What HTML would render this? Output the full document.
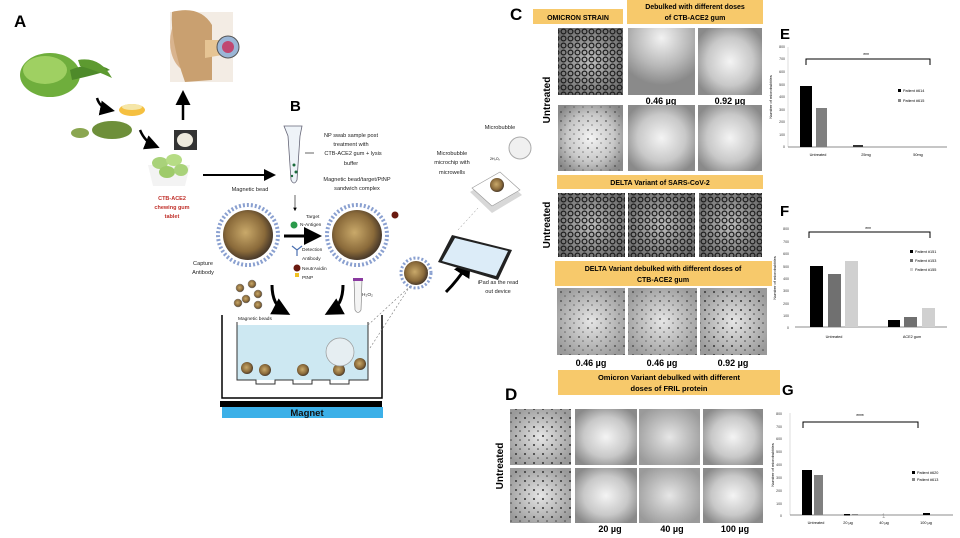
<!DOCTYPE html>
<html><head><meta charset="utf-8"><style>
html,body{margin:0;padding:0;background:#fff}
svg{display:block}
text{font-family:"Liberation Sans",sans-serif}
</style></head><body>
<svg width="960" height="538" viewBox="0 0 960 538" xmlns="http://www.w3.org/2000/svg">
<defs>
<radialGradient id="bright" cx="50%" cy="50%" r="60%"><stop offset="0" stop-color="#f4f4f4"/><stop offset="0.6" stop-color="#c8c8c8"/><stop offset="1" stop-color="#8a8a8a"/></radialGradient>
<radialGradient id="brightT" cx="50%" cy="15%" r="70%"><stop offset="0" stop-color="#f2f2f2"/><stop offset="0.6" stop-color="#b8b8b8"/><stop offset="1" stop-color="#8a8a8a"/></radialGradient>
<radialGradient id="mid" cx="50%" cy="50%" r="60%"><stop offset="0" stop-color="#e6e6e6"/><stop offset="1" stop-color="#9a9a9a"/></radialGradient>
<radialGradient id="denseG" cx="50%" cy="50%" r="60%"><stop offset="0" stop-color="#bdbdbd"/><stop offset="1" stop-color="#6a6a6a"/></radialGradient>
<pattern id="dense" width="7" height="7" patternUnits="userSpaceOnUse"><circle cx="3.5" cy="3.5" r="2.4" fill="none" stroke="#1e1e1e" stroke-width="1.2"/></pattern>
<pattern id="dots" width="9" height="9" patternUnits="userSpaceOnUse"><circle cx="3" cy="4" r="1" fill="#333"/><circle cx="7" cy="8" r="0.8" fill="#444"/></pattern>
<radialGradient id="bead" cx="45%" cy="45%" r="55%"><stop offset="0" stop-color="#c9a96a"/><stop offset="0.7" stop-color="#8a6a3a"/><stop offset="1" stop-color="#4a3a2a"/></radialGradient>
<marker id="ah" markerWidth="6" markerHeight="6" refX="4" refY="3" orient="auto"><path d="M0,0 L6,3 L0,6 z" fill="#000"/></marker>
</defs>

<!-- ===== Panel A ===== -->
<text x="14" y="27" font-size="17" font-weight="bold">A</text>
<ellipse cx="50" cy="75" rx="30" ry="22" fill="#6fae3c"/>
<ellipse cx="45" cy="70" rx="22" ry="14" fill="#9fd062"/>
<path d="M70 70 Q95 60 110 70 Q95 75 72 80z" fill="#4e8a2a"/>
<path d="M78 60 Q100 56 112 78 Q95 70 80 66z" fill="#5d9a30"/>
<rect x="170" y="12" width="63" height="70" fill="#f3ece4"/>
<ellipse cx="190" cy="42" rx="20" ry="30" fill="#d9b48e"/>
<path d="M172 12 Q200 5 212 25 L212 80 L185 82 Q170 40 172 12z" fill="#c9a070"/>
<path d="M205 40 L222 40 L222 55 L205 58z" fill="#e6c493"/>
<circle cx="228" cy="47" r="11" fill="#9bb6d6" stroke="#555"/>
<circle cx="228" cy="47" r="6" fill="#c04870"/>
<path d="M97 98 Q100 108 110 110" fill="none" stroke="#000" stroke-width="2.5" marker-end="url(#ah)"/>
<ellipse cx="132" cy="110" rx="13" ry="6" fill="#f5c040"/>
<ellipse cx="132" cy="107" rx="10" ry="3" fill="#f5e6a8"/>
<ellipse cx="112" cy="130" rx="20" ry="9" fill="#6e8f3a"/>
<ellipse cx="80" cy="133" rx="9" ry="5" fill="#8aa650"/>
<path d="M140 130 Q145 142 155 146" fill="none" stroke="#000" stroke-width="2.5" marker-end="url(#ah)"/>
<path d="M183 120 L183 95" fill="none" stroke="#000" stroke-width="2.5" marker-end="url(#ah)"/>
<rect x="174" y="130" width="23" height="20" fill="#333"/>
<ellipse cx="185" cy="140" rx="8" ry="7" fill="#eeeadd"/>
<path d="M148 165 L190 165 L185 186 L153 186z" fill="#f3f3f3"/>
<ellipse cx="160" cy="163" rx="8" ry="6" fill="#a9d27a"/><ellipse cx="174" cy="160" rx="8" ry="6" fill="#b6dc85"/><ellipse cx="167" cy="172" rx="8" ry="6" fill="#9ecb6a"/><ellipse cx="181" cy="170" rx="7" ry="6" fill="#a9d27a"/>
<text x="172" y="200" font-size="5.5" font-weight="bold" fill="#c0302a" text-anchor="middle">CTB-ACE2</text>
<text x="172" y="209" font-size="5.5" font-weight="bold" fill="#c0302a" text-anchor="middle">chewing gum</text>
<text x="172" y="218" font-size="5.5" font-weight="bold" fill="#c0302a" text-anchor="middle">tablet</text>
<line x1="203" y1="175" x2="272" y2="175" stroke="#000" stroke-width="2" marker-end="url(#ah)"/>

<!-- ===== Panel B ===== -->
<text x="290" y="111" font-size="15" font-weight="bold">B</text>
<path d="M284 126 L302 126 L300 136 L297 180 Q294 186 291 180 L288 136z" fill="#eef3f8" stroke="#667" stroke-width="0.8"/>
<circle cx="294" cy="165" r="1.5" fill="#1a6a3a"/><circle cx="296" cy="172" r="1.5" fill="#1a6a3a"/><circle cx="292" cy="176" r="1.2" fill="#1a6a3a"/>
<line x1="305" y1="153" x2="314" y2="153" stroke="#000" stroke-width="0.6"/>
<g font-size="5.6" text-anchor="middle" fill="#222">
<text x="351" y="137">NP swab sample post</text>
<text x="351" y="146">treatment with</text>
<text x="353" y="155">CTB-ACE2 gum + lysis</text>
<text x="351" y="165">buffer</text>
<text x="357" y="181">Magnetic bead/target/PtNP</text>
<text x="357" y="190">sandwich complex</text>
<text x="250" y="191">Magnetic bead</text>
<text x="203" y="265">Capture</text>
<text x="203" y="274">Antibody</text>
<text x="452" y="155">Microbubble</text>
<text x="452" y="164">microchip with</text>
<text x="452" y="174">microwells</text>
<text x="500" y="129">Microbubble</text>
<text x="498" y="284">iPad as the read</text>
<text x="498" y="293">out device</text>
</g>
<g font-size="4.8" fill="#222">
<text x="306" y="218">Target</text><text x="300" y="226">N-Antigen</text>
<text x="302" y="251">Detection</text><text x="302" y="260">Antibody</text>
<text x="302" y="270">NeutrAvidin</text><text x="302" y="279">PtNP</text>
<text x="238" y="320">Magnetic beads</text>
<text x="242" y="343">H₂O₂ solution</text>
<text x="304" y="345">Microbubble</text>
<text x="362" y="296">H₂O₂</text>
</g>
<line x1="295" y1="195" x2="295" y2="210" stroke="#000" stroke-width="0.6" marker-end="url(#ah)"/>
<circle cx="294" cy="225" r="3.5" fill="#2a9a4a"/>
<path d="M292 246 L297 250 L302 246 M297 250 L297 256" stroke="#4a6fb0" fill="none" stroke-width="1.2"/>
<circle cx="297" cy="268" r="3.5" fill="#6a1a10"/><rect x="295" y="273" width="4" height="4" fill="#f0c020"/>
<circle cx="248" cy="235" r="30" fill="none" stroke="#8aa0d0" stroke-width="4" stroke-dasharray="2 2"/>
<circle cx="248" cy="235" r="25" fill="url(#bead)"/>
<circle cx="357" cy="235" r="30" fill="none" stroke="#8aa0d0" stroke-width="4" stroke-dasharray="2 2"/>
<circle cx="357" cy="235" r="25" fill="url(#bead)"/>
<circle cx="395" cy="215" r="3.5" fill="#6a1a10"/>
<line x1="284" y1="236" x2="316" y2="236" stroke="#000" stroke-width="3" marker-end="url(#ah)"/>
<g fill="url(#bead)" stroke="#888" stroke-width="0.5">
<circle cx="240" cy="288" r="4"/><circle cx="252" cy="284" r="4"/><circle cx="258" cy="294" r="4"/><circle cx="246" cy="299" r="4"/><circle cx="238" cy="303" r="4"/><circle cx="258" cy="305" r="4"/>
</g>
<path d="M272 285 Q272 305 285 312" fill="none" stroke="#000" stroke-width="3" marker-end="url(#ah)"/>
<path d="M343 285 Q343 305 330 312" fill="none" stroke="#000" stroke-width="3" marker-end="url(#ah)"/>
<path d="M354 280 L362 280 L361 310 Q358 315 355 310z" fill="#f4f4f4" stroke="#777" stroke-width="0.6"/>
<rect x="353" y="278" width="10" height="3" fill="#8a3aa0"/>
<rect x="237" y="325" width="131" height="55" fill="#cde8f2"/>
<path d="M222 315 L222 398 L382 398 L382 315" fill="none" stroke="#000" stroke-width="1.5"/>
<path d="M237 322 L237 380 L256 380 L256 384 L275 384 L275 380 L293 380 L293 384 L312 384 L312 380 L330 380 L330 384 L349 384 L349 380 L368 380 L368 322" fill="none" stroke="#333" stroke-width="1"/>
<g fill="url(#bead)"><circle cx="247" cy="368" r="6"/><circle cx="265" cy="370" r="6"/><circle cx="303" cy="370" r="6"/><circle cx="339" cy="370" r="6"/><circle cx="360" cy="364" r="6"/></g>
<circle cx="340" cy="352" r="14" fill="#e6eef2" stroke="#999" stroke-width="0.7"/>
<rect x="220" y="401" width="162" height="6" fill="#000"/>
<rect x="222" y="407" width="161" height="11" fill="#3cb0e8"/>
<text x="307" y="416" font-size="9.5" font-weight="bold" text-anchor="middle" fill="#111">Magnet</text>
<line x1="370" y1="348" x2="412" y2="283" stroke="#777" stroke-width="0.6" stroke-dasharray="2 2"/>
<line x1="368" y1="325" x2="430" y2="268" stroke="#777" stroke-width="0.6" stroke-dasharray="2 2"/>
<circle cx="416" cy="273" r="15" fill="none" stroke="#8aa0d0" stroke-width="3" stroke-dasharray="2 2"/>
<circle cx="416" cy="273" r="12" fill="url(#bead)"/>
<path d="M446 292 Q458 280 468 264" fill="none" stroke="#000" stroke-width="3" marker-end="url(#ah)"/>
<path d="M470 192 L500 175 L522 195 L492 213z" fill="#d8d8d8"/>
<path d="M472 188 L500 172 L520 190 L492 206z" fill="#fff" stroke="#999" stroke-width="0.6"/>
<circle cx="497" cy="185" r="7" fill="url(#bead)"/>
<circle cx="520" cy="148" r="11" fill="#f0f0f0" stroke="#aaa"/>
<text x="490" y="160" font-size="3.5">2H₂O₂</text>
<path d="M452 235 L512 250 L498 280 L438 262z" fill="#222"/>
<path d="M455 238 L508 251 L496 276 L442 261z" fill="#dcecf8"/>
<line x1="458" y1="230" x2="478" y2="208" stroke="#888" stroke-width="0.5" stroke-dasharray="2 2"/>

<!-- ===== Panel C ===== -->
<text x="510" y="20" font-size="17" font-weight="bold">C</text>
<rect x="533" y="9" width="90" height="15" fill="#f7c96b"/>
<text x="578" y="20" font-size="7" font-weight="bold" text-anchor="middle">OMICRON STRAIN</text>
<rect x="627" y="0" width="136" height="24" fill="#f7c96b"/>
<text x="695" y="9" font-size="7" font-weight="bold" text-anchor="middle">Debulked with different doses</text>
<text x="695" y="20" font-size="7" font-weight="bold" text-anchor="middle">of CTB-ACE2 gum</text>
<rect x="558" y="28" width="65" height="67" fill="url(#denseG)"/><rect x="558" y="28" width="65" height="67" fill="url(#dense)"/>
<rect x="628" y="28" width="67" height="67" fill="url(#brightT)"/>
<rect x="698" y="28" width="64" height="67" fill="url(#bright)"/>
<text x="661" y="104" font-size="9" font-weight="bold" text-anchor="middle">0.46 µg</text>
<text x="730" y="104" font-size="9" font-weight="bold" text-anchor="middle">0.92 µg</text>
<rect x="558" y="105" width="65" height="66" fill="url(#bright)"/><rect x="558" y="105" width="65" height="66" fill="url(#dots)" opacity="0.6"/>
<rect x="628" y="105" width="67" height="66" fill="url(#bright)"/>
<rect x="698" y="105" width="64" height="66" fill="url(#bright)"/>
<text transform="translate(550,100) rotate(-90)" font-size="10" font-weight="bold" text-anchor="middle">Untreated</text>
<rect x="557" y="175" width="206" height="14" fill="#f7c96b"/>
<text x="660" y="185" font-size="7" font-weight="bold" text-anchor="middle">DELTA Variant of SARS-CoV-2</text>
<rect x="558" y="193" width="67" height="64" fill="url(#denseG)"/><rect x="558" y="193" width="67" height="64" fill="url(#dense)"/>
<rect x="628" y="193" width="67" height="64" fill="url(#denseG)"/><rect x="628" y="193" width="67" height="64" fill="url(#dense)"/>
<rect x="699" y="193" width="63" height="64" fill="url(#denseG)"/><rect x="699" y="193" width="63" height="64" fill="url(#dense)"/>
<text transform="translate(550,225) rotate(-90)" font-size="10" font-weight="bold" text-anchor="middle">Untreated</text>
<rect x="555" y="261" width="217" height="25" fill="#f7c96b"/>
<text x="663" y="271" font-size="7" font-weight="bold" text-anchor="middle">DELTA Variant debulked with different doses of</text>
<text x="663" y="282" font-size="7" font-weight="bold" text-anchor="middle">CTB-ACE2 gum</text>
<rect x="557" y="288" width="68" height="67" fill="url(#mid)"/><rect x="557" y="288" width="68" height="67" fill="url(#dots)" opacity="0.7"/>
<rect x="628" y="288" width="69" height="67" fill="url(#mid)"/><rect x="628" y="288" width="69" height="67" fill="url(#dots)" opacity="0.7"/>
<rect x="700" y="288" width="67" height="67" fill="url(#mid)"/><rect x="700" y="288" width="67" height="67" fill="url(#dots)"/>
<text x="591" y="366" font-size="9" font-weight="bold" text-anchor="middle">0.46 µg</text>
<text x="662" y="366" font-size="9" font-weight="bold" text-anchor="middle">0.46 µg</text>
<text x="733" y="366" font-size="9" font-weight="bold" text-anchor="middle">0.92 µg</text>

<!-- ===== Panel D ===== -->
<text x="505" y="400" font-size="17" font-weight="bold">D</text>
<rect x="558" y="370" width="222" height="25" fill="#f7c96b"/>
<text x="669" y="380" font-size="7.5" font-weight="bold" text-anchor="middle">Omicron Variant debulked with different</text>
<text x="669" y="391" font-size="7.5" font-weight="bold" text-anchor="middle">doses of FRIL protein</text>
<rect x="510" y="409" width="61" height="56" fill="url(#mid)"/><rect x="510" y="409" width="61" height="56" fill="url(#dots)"/>
<rect x="575" y="409" width="62" height="56" fill="url(#bright)"/>
<rect x="639" y="409" width="61" height="56" fill="url(#mid)"/>
<rect x="703" y="409" width="60" height="56" fill="url(#bright)"/>
<rect x="510" y="468" width="61" height="55" fill="url(#mid)"/><rect x="510" y="468" width="61" height="55" fill="url(#dots)"/>
<rect x="575" y="468" width="62" height="55" fill="url(#bright)"/>
<rect x="639" y="468" width="61" height="55" fill="url(#mid)"/>
<rect x="703" y="468" width="60" height="55" fill="url(#bright)"/>
<text transform="translate(503,466) rotate(-90)" font-size="10" font-weight="bold" text-anchor="middle">Untreated</text>
<text x="610" y="532" font-size="9" font-weight="bold" text-anchor="middle">20 µg</text>
<text x="672" y="532" font-size="9" font-weight="bold" text-anchor="middle">40 µg</text>
<text x="735" y="532" font-size="9" font-weight="bold" text-anchor="middle">100 µg</text>

<!-- ===== Chart E ===== -->
<text x="780" y="39" font-size="15" font-weight="bold">E</text>
<g font-size="3.5" fill="#333" text-anchor="end">
<text x="785" y="48">800</text><text x="785" y="60">700</text><text x="785" y="73">600</text><text x="785" y="86">500</text><text x="785" y="98">400</text><text x="785" y="111">300</text><text x="785" y="123">200</text><text x="785" y="136">100</text><text x="785" y="148">0</text>
</g>
<text transform="translate(772,97) rotate(-90)" font-size="4" text-anchor="middle">Number of microbubbles</text>
<line x1="788" y1="47" x2="788" y2="147" stroke="#bbb" stroke-width="0.5"/>
<line x1="788" y1="147" x2="947" y2="147" stroke="#666" stroke-width="0.8"/>
<rect x="800" y="86" width="12" height="61" fill="#000"/>
<rect x="816" y="108" width="11" height="39" fill="#7f7f7f"/>
<rect x="853" y="145" width="10" height="2" fill="#333"/>
<path d="M806 65 L806 59 L930 59 L930 65" fill="none" stroke="#000" stroke-width="1"/>
<text x="866" y="57" font-size="5" text-anchor="middle">***</text>
<g font-size="3.8" text-anchor="middle"><text x="818" y="156">Untreated</text><text x="866" y="156">25mg</text><text x="918" y="156">50mg</text></g>
<rect x="898" y="89" width="3" height="3" fill="#000"/><text x="903" y="92" font-size="3.8">Patient #614</text>
<rect x="898" y="99" width="3" height="3" fill="#888"/><text x="903" y="102" font-size="3.8">Patient #615</text>

<!-- ===== Chart F ===== -->
<text x="780" y="216" font-size="15" font-weight="bold">F</text>
<g font-size="3.5" fill="#333" text-anchor="end">
<text x="789" y="230">800</text><text x="789" y="243">700</text><text x="789" y="255">600</text><text x="789" y="268">500</text><text x="789" y="280">400</text><text x="789" y="292">300</text><text x="789" y="305">200</text><text x="789" y="317">100</text><text x="789" y="329">0</text>
</g>
<text transform="translate(776,278) rotate(-90)" font-size="4" text-anchor="middle">Number of microbubbles</text>
<line x1="795" y1="327" x2="947" y2="327" stroke="#666" stroke-width="0.8"/>
<rect x="810" y="266" width="13" height="61" fill="#000"/>
<rect x="828" y="274" width="13" height="53" fill="#707070"/>
<rect x="845" y="261" width="13" height="66" fill="#d0d0d0"/>
<rect x="888" y="320" width="12" height="7" fill="#000"/>
<rect x="904" y="317" width="13" height="10" fill="#707070"/>
<rect x="922" y="308" width="13" height="19" fill="#d0d0d0"/>
<path d="M809 238 L809 232 L930 232 L930 238" fill="none" stroke="#000" stroke-width="1"/>
<text x="868" y="231" font-size="5" text-anchor="middle">***</text>
<g font-size="3.8" text-anchor="middle"><text x="834" y="338">Untreated</text><text x="912" y="338">ACE2 gum</text></g>
<rect x="910" y="250" width="3" height="3" fill="#000"/><text x="915" y="253" font-size="3.8">Patient #151</text>
<rect x="910" y="259" width="3" height="3" fill="#707070"/><text x="915" y="262" font-size="3.8">Patient #153</text>
<rect x="910" y="268" width="3" height="3" fill="#d0d0d0"/><text x="915" y="271" font-size="3.8">Patient #155</text>

<!-- ===== Chart G ===== -->
<text x="782" y="395" font-size="15" font-weight="bold">G</text>
<g font-size="3.5" fill="#333" text-anchor="end">
<text x="782" y="415">800</text><text x="782" y="428">700</text><text x="782" y="440">600</text><text x="782" y="453">500</text><text x="782" y="466">400</text><text x="782" y="479">300</text><text x="782" y="492">200</text><text x="782" y="505">100</text><text x="782" y="517">0</text>
</g>
<text transform="translate(774,465) rotate(-90)" font-size="4" text-anchor="middle">Number of microbubbles</text>
<line x1="790" y1="413" x2="790" y2="515" stroke="#bbb" stroke-width="0.5"/>
<line x1="790" y1="515" x2="953" y2="515" stroke="#666" stroke-width="0.8"/>
<rect x="802" y="470" width="10" height="45" fill="#000"/>
<rect x="814" y="475" width="9" height="40" fill="#808080"/>
<rect x="844" y="514" width="6" height="1.5" fill="#000"/><rect x="852" y="514" width="6" height="1.5" fill="#888"/>
<rect x="923" y="513" width="7" height="2" fill="#000"/>
<text x="882" y="518" font-size="6" fill="#999">1</text>
<path d="M803 428 L803 422 L918 422 L918 428" fill="none" stroke="#000" stroke-width="1"/>
<text x="860" y="418" font-size="5" text-anchor="middle">****</text>
<g font-size="3.8" text-anchor="middle"><text x="816" y="524">Untreated</text><text x="848" y="524">20 µg</text><text x="884" y="524">40 µg</text><text x="926" y="524">100 µg</text></g>
<rect x="912" y="471" width="3" height="3" fill="#000"/><text x="917" y="474" font-size="3.8">Patient #620</text>
<rect x="912" y="478" width="3" height="3" fill="#888"/><text x="917" y="481" font-size="3.8">Patient #613</text>
</svg>
</body></html>
